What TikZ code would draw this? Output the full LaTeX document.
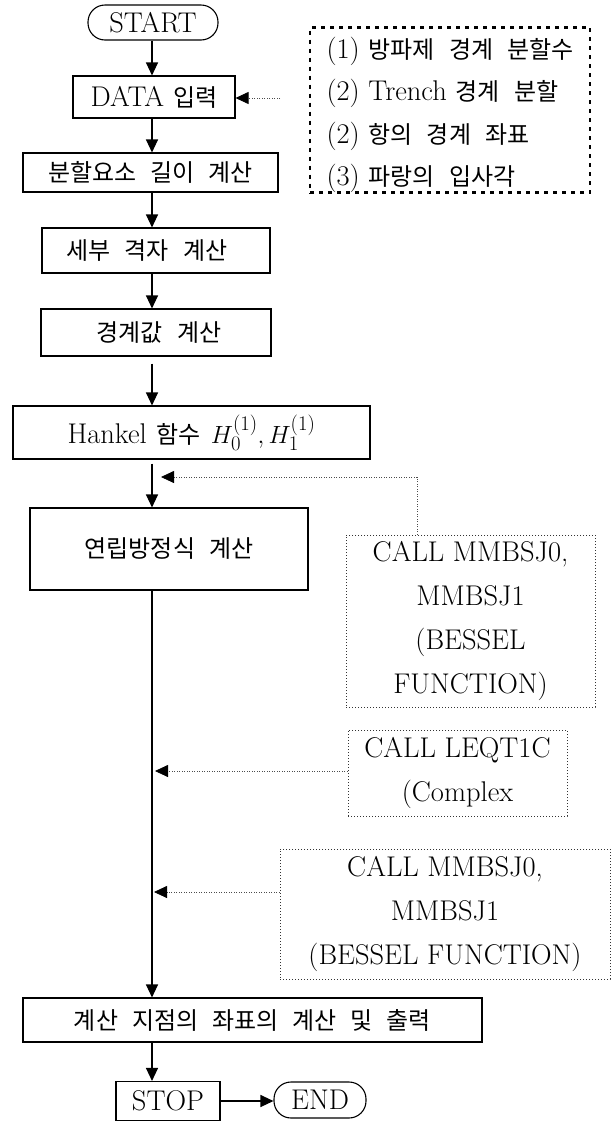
\documentclass[tikz,border=0pt]{standalone}
\usepackage{fontspec}
\usetikzlibrary{arrows.meta}
\newfontfamily\krf{Noto Sans CJK KR}
\newcommand\K[1]{{\krf\fontsize{24}{42}\selectfont #1}}
\newcommand\ks{\hspace{14pt}}
\tikzset{
  box/.style={draw, line width=1.1pt, inner sep=0pt},
  term/.style={box, rounded corners=17pt},
  dbox/.style={draw=black!80, line width=0.9pt, dash pattern=on 1pt off 2pt, inner sep=0pt, align=center},
  infobox/.style={draw, line width=2.8pt, dash pattern=on 4pt off 5pt, inner sep=0pt, align=left, font=\fontsize{28.5}{42.5}\selectfont},
  arr/.style={line width=1.2pt, -{Triangle[length=13pt,width=12pt]}},
  darr/.style={draw=black!70, line width=0.8pt, dash pattern=on 1pt off 1.5pt, -{Triangle[length=13pt,width=12pt,color=black]}},
}
\begin{document}
\begin{tikzpicture}[x=1pt,y=-1pt, font=\fontsize{28.5}{44}\selectfont]
\useasboundingbox (0,0) rectangle (611,1125);
\coordinate (mx) at (152,0);
\node[term, minimum width=130pt, minimum height=35pt] (start) at (153,22.5) {START};
\node[box, minimum width=162pt, minimum height=42pt] (data) at (154,97) {DATA\hspace{9pt}\K{입력}};
\node[box, minimum width=255pt, minimum height=39pt] (div) at (150.5,172.5) {\K{분할요소\ks{}길이\ks{}계산}};
\node[box, minimum width=228pt, minimum height=45pt] (grid) at (156,250.5) {\K{세부\ks{}격자\ks{}계산}\hspace*{18pt}};
\node[box, minimum width=230pt, minimum height=47pt] (bnd) at (156,332.5) {\hspace*{6pt}\K{경계값\ks{}계산}};
\node[box, minimum width=357pt, minimum height=53pt] (hank) at (191.5,432.5) {Hankel\hspace{10pt}\K{함수}\hspace{10pt}$H_0^{(1)},H_1^{(1)}$};
\node[box, minimum width=278pt, minimum height=82pt] (sim) at (169,549) {\K{연립방정식\ks{}계산}};
\node[dbox, minimum width=249pt, minimum height=172pt] (c1) at (470.5,621) {CALL MMBSJ0,\\MMBSJ1\\(BESSEL\\FUNCTION)};
\node[dbox, minimum width=219pt, minimum height=86pt] (c2) at (457.5,773) {CALL LEQT1C\\(Complex};
\node[dbox, minimum width=330pt, minimum height=130pt] (c3) at (445,914) {CALL MMBSJ0,\\MMBSJ1\\(BESSEL FUNCTION)};
\node[box, minimum width=459pt, minimum height=44pt] (out) at (252.5,1020) {\K{계산\ks{}지점의\ks{}좌표의\ks{}계산\ks{}및\ks{}출력}};
\node[box, minimum width=104pt, minimum height=39pt] (stop) at (168,1101) {STOP};
\node[term, minimum width=92pt, minimum height=36pt] (end) at (320,1100) {END};
\node[infobox, minimum width=280pt, minimum height=164pt] (info) at (450,110) {\rule{0pt}{31pt}(1)\hspace{9pt}\K{방파제\ks{}경계\ks{}분할수}\\(2) Trench\hspace{9pt}\K{경계\ks{}분할}\\(2)\hspace{9pt}\K{항의\ks{}경계\ks{}좌표}\\(3)\hspace{9pt}\K{파랑의\ks{}입사각}};
% main flow
\draw[arr] (start.south -| mx) -- (data.north -| mx);
\draw[arr] (data.south -| mx) -- (div.north -| mx);
\draw[arr] (div.south -| mx) -- (grid.north -| mx);
\draw[arr] (grid.south -| mx) -- (bnd.north -| mx);
\draw[arr, shorten <=7pt] (bnd.south -| mx) -- (hank.north -| mx);
\draw[arr, shorten <=4pt] (hank.south -| mx) -- (sim.north -| mx);
\draw[arr] (sim.south -| mx) -- (out.north -| mx);
\draw[arr] (out.south -| mx) -- (stop.north -| mx);
\draw[arr] (stop.east) -- (stop.east -| end.west);
% dotted inputs
\coordinate (d0) at (280,98);
\draw[darr] (d0) -- (data.east |- d0);
\coordinate (k1) at (417,477);
\coordinate (t1) at (161,477);
\draw[darr] (k1 |- c1.north) -- (k1) -- (t1);
\coordinate (t2) at (155,771);
\draw[darr] (c2.west |- t2) -- (t2);
\coordinate (t3) at (154,892);
\draw[darr] (c3.west |- t3) -- (t3);
\end{tikzpicture}
\end{document}
